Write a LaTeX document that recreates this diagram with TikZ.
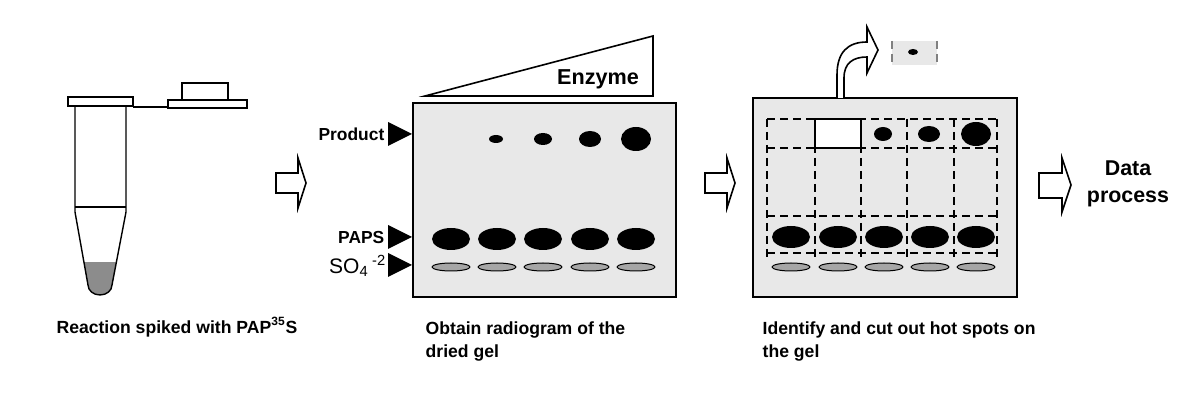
\documentclass[tikz,border=0pt]{standalone}
\usepackage{fontspec}
\setmainfont{Liberation Sans}
\begin{document}
\begin{tikzpicture}[x=0.5pt,y=-0.5pt,line width=0.7pt,
  lbl/.style={font=\bfseries\fontsize{8.8}{11.5}\selectfont,inner sep=0},
  gel/.style={draw,fill=black!9,line width=0.9pt},
  spot/.style={fill=black},
  sspot/.style={draw,fill=black!35,line width=0.5pt},
  grid/.style={dashed,dash pattern=on 4pt off 2.5pt,line width=0.7pt},
  blockarrow/.style={draw,fill=white,line width=0.8pt},
  tri/.style={fill=black}]
\useasboundingbox (0,0) rectangle (1200,400);
% tube
\begin{scope}
\clip (75,106) -- (75,212) -- (88,285) arc[start angle=180,end angle=360,x radius=12,y radius=-10] -- (126,212) -- (126,106) -- cycle;
\fill[black!45] (60,262) rectangle (140,310);
\end{scope}
\draw (75,106) -- (75,212) -- (88,285) arc[start angle=180,end angle=360,x radius=12,y radius=-10] -- (126,212) -- (126,106);
\draw (75,207) -- (126,207);
\draw (68,97) rectangle (133,106);
\draw (133,107) -- (168,107);
\draw (168,100) rectangle (247,108);
\draw (182,83) rectangle (228,100);
\node[lbl,anchor=center] (cap1) at (177,327) {Reaction spiked with PAP\textsuperscript{\fontsize{6}{6}\selectfont 35}S};
% arrows
\draw[blockarrow] (276,173) -- (298,173) -- (298,158) -- (306,183) -- (298,208) -- (298,193) -- (276,193) -- cycle;
\draw[blockarrow] (705,173) -- (727,173) -- (727,158) -- (735,183) -- (727,208) -- (727,193) -- (705,193) -- cycle;
\draw[blockarrow] (1039,173) -- (1062,173) -- (1062,158) -- (1071,185) -- (1062,212) -- (1062,198) -- (1039,198) -- cycle;
% gel 1
\draw[line width=0.8pt] (425,96) -- (653,36) -- (653,96) -- cycle;
\node[lbl,font=\bfseries\fontsize{10.8}{12}\selectfont] (enz) at (598,79) {Enzyme};
\draw[gel] (413,103) rectangle (676,297);
\foreach \x in {451,497,543,590,636} {
  \fill[spot] (\x,239) ellipse[x radius=19,y radius=11];
  \draw[sspot] (\x,267) ellipse[x radius=19,y radius=4];
}
\fill[spot] (496,139) ellipse[x radius=7,y radius=4];
\fill[spot] (543,139) ellipse[x radius=9,y radius=6];
\fill[spot] (590,139) ellipse[x radius=11,y radius=8];
\fill[spot] (636,139) ellipse[x radius=15,y radius=12];
\fill[tri] (388,122) -- (412,134) -- (388,146) -- cycle;
\fill[tri] (388,225) -- (412,237) -- (388,249) -- cycle;
\fill[tri] (388,253) -- (412,265) -- (388,277) -- cycle;
\node[lbl,font=\bfseries\fontsize{8.7}{10}\selectfont,anchor=east] (prod) at (385,134) {Product};
\node[lbl,font=\bfseries\fontsize{8.7}{10}\selectfont,anchor=east] (paps) at (385,238) {PAPS};
\node[lbl,font=\fontsize{10.5}{12}\selectfont,anchor=east] (so4) at (387,266) {SO\textsubscript{4}\,\textsuperscript{-2}};
\node[lbl,anchor=north west,align=left] (cap2) at (425,321) {Obtain radiogram of the\\dried gel};
% gel 2
\draw[gel] (753,98) rectangle (1017,297);
\draw[grid] (767,119) -- (997,119) (767,148) -- (997,148) (767,216) -- (997,216) (767,253) -- (997,253);
\foreach \x in {767,815,861,907,954,997} \draw[grid] (\x,119) -- (\x,260);
\draw[fill=white,line width=0.8pt] (815,119) rectangle (861,148);
\foreach \x in {791,838,884,930,976} {
  \fill[spot] (\x,237) ellipse[x radius=19,y radius=11];
  \draw[sspot] (\x,267) ellipse[x radius=19,y radius=4];
}
\fill[spot] (883,134) ellipse[x radius=9,y radius=7];
\fill[spot] (929,134) ellipse[x radius=11,y radius=8];
\fill[spot] (976,134) ellipse[x radius=15,y radius=12];
\draw[blockarrow] (837,98) -- (837,75) .. controls (837,52) and (848,42) .. (867,42) -- (867,27) -- (878,50) -- (867,73) -- (867,57) .. controls (853,57) and (844,63) .. (844,78) -- (844,98);
\fill[black!9] (892,41) rectangle (937,65);
\draw[grid,black!50,line width=0.6pt] (892,41) -- (892,65) (937,41) -- (937,65);
\fill[spot] (913,52) ellipse[x radius=5,y radius=3];
\node[lbl,anchor=north west,align=left] (cap3) at (762,321) {Identify and cut out hot spots on\\the gel};
\node[lbl,font=\bfseries\fontsize{10.7}{13.5}\selectfont,align=center] (data) at (1128,184) {Data\\process};
\end{tikzpicture}
\end{document}
